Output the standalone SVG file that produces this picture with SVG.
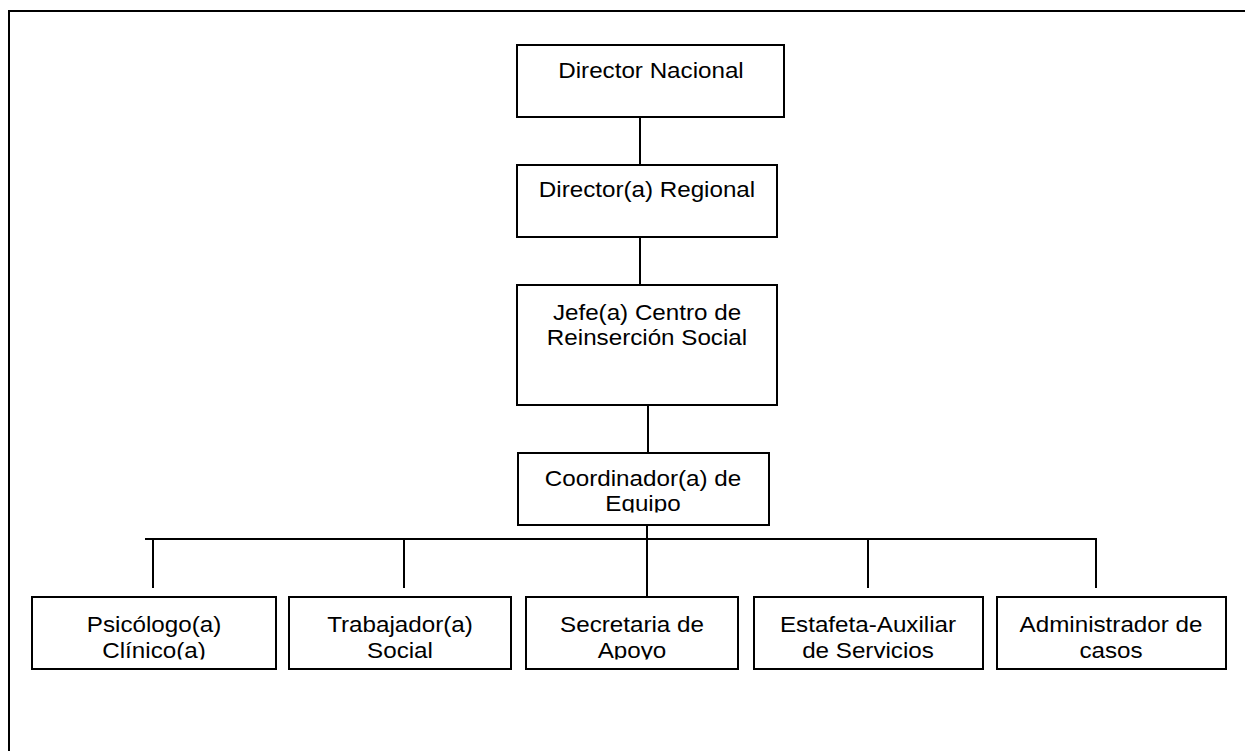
<svg xmlns="http://www.w3.org/2000/svg" width="1245" height="751" viewBox="0 0 1245 751">
<style>
.box{fill:#fff;stroke:#000;stroke-width:2}
.ln{fill:none;stroke:#000;stroke-width:2}
.t{font-family:"Liberation Sans",Arial,sans-serif;font-size:22px;fill:#000;text-anchor:middle}
</style>
<defs>
<clipPath id="cCoord"><rect x="519" y="454" width="249" height="58.5"/></clipPath>
<clipPath id="cRow"><rect x="0" y="598" width="1245" height="61.5"/></clipPath>
</defs>
<rect x="0" y="0" width="1245" height="751" fill="#fff"/>
<path class="ln" d="M9,751 V11 H1245"/>
<g id="connectors">
<line class="ln" x1="640" y1="117" x2="640" y2="165"/>
<line class="ln" x1="640" y1="237" x2="640" y2="285"/>
<line class="ln" x1="648" y1="405" x2="648" y2="453"/>
<line class="ln" x1="647" y1="525" x2="647" y2="597"/>
<line class="ln" x1="145" y1="539" x2="1097" y2="539"/>
<line class="ln" x1="153" y1="539" x2="153" y2="588"/>
<line class="ln" x1="404" y1="539" x2="404" y2="588"/>
<line class="ln" x1="868" y1="539" x2="868" y2="588"/>
<line class="ln" x1="1096" y1="539" x2="1096" y2="588"/>
</g>
<g id="director-nacional">
<rect class="box" x="517" y="45" width="267" height="72"/>
<text class="t" transform="translate(651,78) scale(1.1,1)">Director Nacional</text>
</g>
<g id="director-regional">
<rect class="box" x="517" y="165" width="260" height="72"/>
<text class="t" transform="translate(647,197) scale(1.1,1)">Director(a) Regional</text>
</g>
<g id="jefe-centro">
<rect class="box" x="517" y="285" width="260" height="120"/>
<text class="t" transform="translate(647,320) scale(1.1,1)">Jefe(a) Centro de</text>
<text class="t" transform="translate(647,345) scale(1.1,1)">Reinserción Social</text>
</g>
<g id="coordinador">
<rect class="box" x="518" y="453" width="251" height="72"/>
<g clip-path="url(#cCoord)">
<text class="t" transform="translate(643,486) scale(1.1,1)">Coordinador(a) de</text>
<text class="t" transform="translate(643,511) scale(1.1,1)">Equipo</text>
</g>
</g>
<g id="psicologo">
<rect class="box" x="32" y="597" width="244" height="72"/>
<g clip-path="url(#cRow)">
<text class="t" transform="translate(154,632) scale(1.1,1)">Psicólogo(a)</text>
<text class="t" transform="translate(154,658) scale(1.1,1)">Clínico(a)</text>
</g>
</g>
<g id="trabajador">
<rect class="box" x="289" y="597" width="222" height="72"/>
<g clip-path="url(#cRow)">
<text class="t" transform="translate(400,632) scale(1.1,1)">Trabajador(a)</text>
<text class="t" transform="translate(400,658) scale(1.1,1)">Social</text>
</g>
</g>
<g id="secretaria">
<rect class="box" x="526" y="597" width="212" height="72"/>
<g clip-path="url(#cRow)">
<text class="t" transform="translate(632,632) scale(1.1,1)">Secretaria de</text>
<text class="t" transform="translate(632,658) scale(1.1,1)">Apoyo</text>
</g>
</g>
<g id="estafeta">
<rect class="box" x="754" y="597" width="229" height="72"/>
<g clip-path="url(#cRow)">
<text class="t" transform="translate(868,632) scale(1.1,1)">Estafeta-Auxiliar</text>
<text class="t" transform="translate(868,658) scale(1.1,1)">de Servicios</text>
</g>
</g>
<g id="administrador">
<rect class="box" x="997" y="597" width="229" height="72"/>
<g clip-path="url(#cRow)">
<text class="t" transform="translate(1111,632) scale(1.1,1)">Administrador de</text>
<text class="t" transform="translate(1111,658) scale(1.1,1)">casos</text>
</g>
</g>
</svg>
